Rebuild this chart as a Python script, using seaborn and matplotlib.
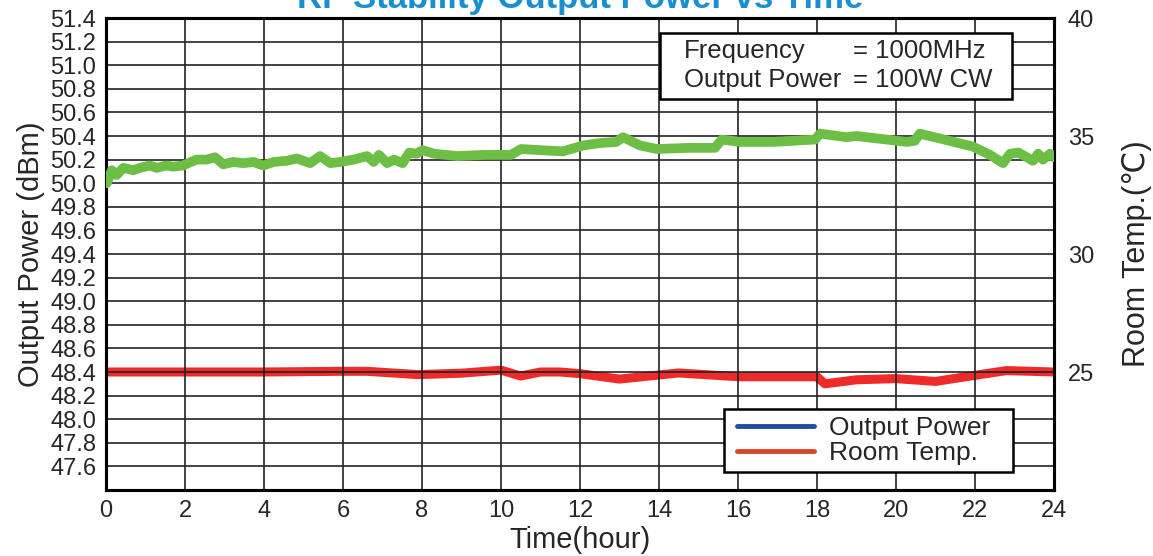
import matplotlib
matplotlib.use("Agg")
import matplotlib.pyplot as plt
from matplotlib.lines import Line2D
from matplotlib.patches import Rectangle
import seaborn as sns

# output power (left axis)
power_time = [0.02, 0.15, 0.27, 0.44, 0.69, 0.86, 1.11, 1.28, 1.53, 1.70, 1.95, 2.29, 2.55,
              2.76, 2.97, 3.22, 3.48, 3.73, 3.98, 4.24, 4.58, 4.83, 5.17, 5.42, 5.68, 5.93,
              6.27, 6.61, 6.78, 6.91, 7.12, 7.29, 7.51, 7.68, 7.85, 8.02, 8.31, 8.90, 9.58,
              10.25, 10.51, 11.0, 11.57, 12.08, 12.5, 12.92, 13.09, 13.52, 13.94, 14.78,
              15.42, 15.59, 16.05, 16.89, 17.95, 18.08, 18.75, 19.0, 20.27, 20.48, 20.6,
              21.1, 21.95, 22.38, 22.71, 22.89, 23.1, 23.47, 23.6, 23.72, 23.9, 24.0]
power_dbm = [50.00, 50.11, 50.07, 50.13, 50.11, 50.13, 50.15, 50.13, 50.15, 50.14, 50.15, 50.20,
             50.20, 50.22, 50.16, 50.18, 50.17, 50.18, 50.15, 50.18, 50.19, 50.21, 50.17,
             50.23, 50.17, 50.18, 50.20, 50.23, 50.18, 50.24, 50.17, 50.20, 50.17, 50.26,
             50.25, 50.28, 50.25, 50.23, 50.24, 50.24, 50.29, 50.28, 50.27, 50.32, 50.34,
             50.35, 50.39, 50.32, 50.29, 50.30, 50.30, 50.37, 50.35, 50.35, 50.37, 50.42,
             50.39, 50.40, 50.35, 50.36, 50.42, 50.38, 50.31, 50.24, 50.17, 50.25, 50.26,
             50.19, 50.25, 50.20, 50.25, 50.22]

# room temperature (right axis)
temp_time = [0, 2, 4, 6, 6.6, 7.9, 9, 10, 10.5, 11, 11.5, 12, 13, 14.5, 16, 18, 18.2, 19,
             20, 21, 22, 22.8, 24]
temp_c = [25.0, 25.0, 25.0, 25.03, 25.03, 24.89, 24.95, 25.08, 24.83, 25.0, 25.0, 24.93,
          24.7, 24.96, 24.8, 24.8, 24.5, 24.67, 24.72, 24.6, 24.86, 25.06, 25.0]

x_ticks = list(range(0, 25, 2))
left_ticks = [47.6 + 0.2 * i for i in range(20)]
right_ticks = [25, 30, 35, 40]

sns.set_style("white")
plt.rcParams['font.family'] = ['Liberation Sans Narrow', 'Liberation Sans', 'DejaVu Sans']
wide = ['Liberation Sans', 'DejaVu Sans']

fig = plt.figure(figsize=(11.53, 5.56), dpi=100)
ax = fig.add_axes([0.0919, 0.1187, 0.8222, 0.8489])
ax2 = ax.twinx()

sns.lineplot(x=temp_time, y=temp_c, ax=ax2, color='#ee2a2a', linewidth=6.5, zorder=3)
sns.lineplot(x=power_time, y=power_dbm, ax=ax, color='#6dbe45', linewidth=7, zorder=4)
ax.set_zorder(ax2.get_zorder() + 1)
ax.patch.set_visible(False)

ax.set_xlim(0, 24)
ax.set_ylim(47.4, 51.4)
ax2.set_ylim(20, 40)
ax.set_xticks(x_ticks)
ax.set_yticks(left_ticks)
ax.set_yticklabels([f"{v:.1f}" for v in left_ticks])
ax2.set_yticks(right_ticks)
ax.tick_params(axis='both', length=0, labelsize=17, pad=7)
ax2.tick_params(axis='y', length=0, labelsize=17, pad=10)
ax.grid(True, color='#222222', linewidth=1.2, zorder=0)
ax.set_axisbelow(True)
for sp in list(ax.spines.values()) + list(ax2.spines.values()):
    sp.set_linewidth(2.2)
    sp.set_color('black')

ax.set_xlabel('Time(hour)', fontsize=21, labelpad=3, family=wide)
ax.set_ylabel('Output Power (dBm)', fontsize=21, labelpad=4, family=wide)
ax2.set_ylabel('Room Temp.(\u2103)', fontsize=22, labelpad=20, family=wide)

fig.text(0.503, 0.986, 'RF Stability Output Power vs Time', ha='center', va='baseline',
         fontsize=25, fontweight='bold', color='#1a8fd0', family=wide)

# condition box
ax.add_patch(Rectangle((0.5844, 0.8284), 0.3713, 0.1398, transform=ax.transAxes,
                       facecolor='white', edgecolor='black', linewidth=1.8, zorder=10))
for txt, x, y in [('Frequency', 0.6097, 0.930), ('= 1000MHz', 0.788, 0.930),
                  ('Output Power', 0.6097, 0.8686), ('= 100W CW', 0.788, 0.8686)]:
    ax.text(x, y, txt, transform=ax.transAxes, ha='left', va='center', fontsize=18.5,
            family=wide, zorder=11)

# legend (frame drawn separately to get the wide box)
ax.add_patch(Rectangle((0.652, 0.038), 0.305, 0.1335, transform=ax.transAxes,
                       facecolor='white', edgecolor='black', linewidth=1.8, zorder=10))
handles = [Line2D([], [], color='#1f4e9e', linewidth=3.5),
           Line2D([], [], color='#d9462b', linewidth=3.5)]
leg = ax.legend(handles, ['Output Power', 'Room Temp.'], loc='center left',
                bbox_to_anchor=(0.6657, 0.1048), borderaxespad=0, borderpad=0,
                frameon=False, handlelength=2.9, labelspacing=0.05, handletextpad=0.6,
                prop={'family': wide, 'size': 19})
leg.set_zorder(11)

fig.savefig('out.png', dpi=100)
